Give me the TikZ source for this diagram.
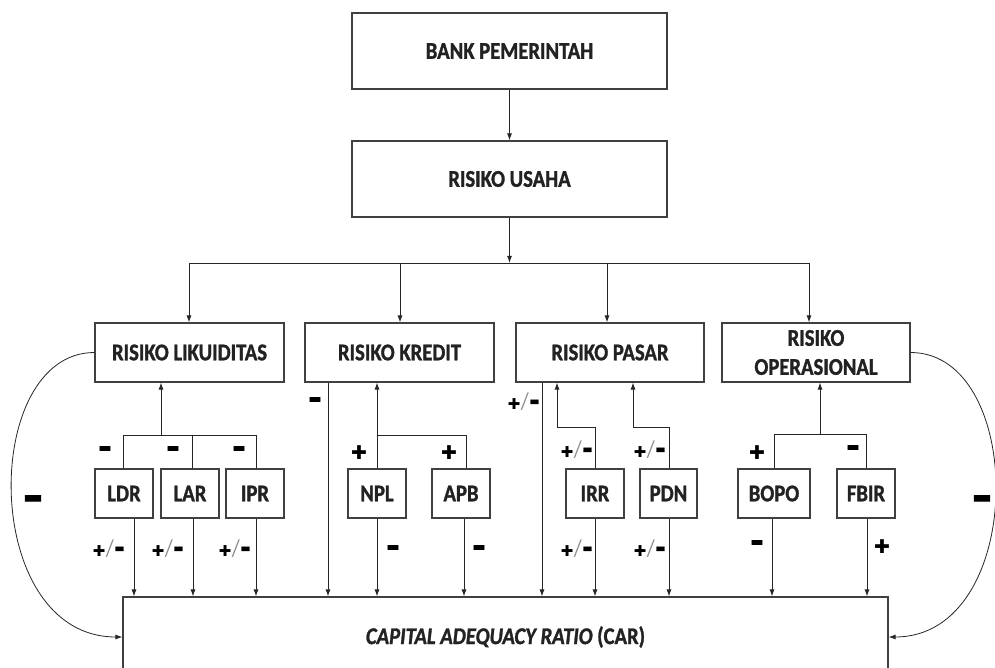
\documentclass[tikz,border=0pt]{standalone}
\usepackage{fontspec}
\usepackage{graphicx}
\usetikzlibrary{arrows.meta,calc}
\setmainfont{Carlito}[FakeStretch=0.86, BoldFeatures={FakeBold=1.2}, BoldItalicFeatures={FakeBold=1.2}]
\newfontfamily\djv{DejaVu Sans}
\newcommand\mnsign[2]{\scalebox{#1}[#2]{\fontsize{20}{20}\selectfont\bfseries –}}
\newcommand\plsign[1]{{\djv\fontsize{#1}{#1}\selectfont ✚}}
\newcommand\pmsign{\plsign{15}\kern0.5pt{\color{black!45}\fontsize{24}{24}\selectfont /}\kern0pt\raisebox{-5pt}{\mnsign{1.3}{2.3}}}
\definecolor{ink}{HTML}{222222}
\tikzset{
  box/.style={draw=black!75, line width=1.1pt, inner sep=0pt, align=center,
    font=\fontsize{24}{29}\selectfont\bfseries, text=ink},
  arr/.style={-{Latex[length=7pt,width=5pt]}, line width=0.9pt, draw=black!85},
  ln/.style={line width=0.9pt, draw=black!85},
  sg/.style={inner sep=0pt, text=black},
}
\begin{document}
\begin{tikzpicture}[x=1pt,y=-1pt]
\useasboundingbox (0,0) rectangle (995,668);
\clip (0,0) rectangle (995,668);
\fill[white] (0,0) rectangle (995,668);
% top boxes
\node[box, minimum width=315pt, minimum height=76pt] (bank) at (509.5,51) {BANK PEMERINTAH};
\node[box, minimum width=315pt, minimum height=76pt] (usaha) at (509.5,179) {RISIKO USAHA};
% risk boxes
\node[box, minimum width=189pt, minimum height=59pt] (lik) at (189.5,352.5) {RISIKO LIKUIDITAS};
\node[box, minimum width=189pt, minimum height=59pt] (kre) at (399.5,352.5) {RISIKO KREDIT};
\node[box, minimum width=188pt, minimum height=59pt] (pas) at (610,352.5) {RISIKO PASAR};
\node[box, minimum width=188pt, minimum height=59pt] (ops) at (816,352.5) {RISIKO\\OPERASIONAL};
% ratio boxes
\node[box, minimum width=58pt, minimum height=49pt] (ldr) at (124,493.5) {LDR};
\node[box, minimum width=58pt, minimum height=49pt] (lar) at (190,493.5) {LAR};
\node[box, minimum width=58pt, minimum height=49pt] (ipr) at (255,493.5) {IPR};
\node[box, minimum width=58pt, minimum height=49pt] (npl) at (377,493.5) {NPL};
\node[box, minimum width=58pt, minimum height=49pt] (apb) at (461,493.5) {APB};
\node[box, minimum width=58pt, minimum height=49pt] (irr) at (595,493.5) {IRR};
\node[box, minimum width=57pt, minimum height=49pt] (pdn) at (668.5,493.5) {PDN};
\node[box, minimum width=72pt, minimum height=49pt] (bopo) at (774,493.5) {BOPO};
\node[box, minimum width=58pt, minimum height=49pt] (fbir) at (866,493.5) {FBIR};
% CAR
\node[box, minimum width=765pt, minimum height=80pt] (car) at (505.5,637) {\textit{CAPITAL ADEQUACY RATIO} (CAR)};
% top connectors
\coordinate (br) at (509.5,263);
\draw[arr] (bank) -- (usaha);
\draw[arr] (usaha) -- (br);
\draw[ln] ([xshift=-0.5pt]br -| lik) -- ([xshift=-7pt]br -| ops);
\draw[arr] ([xshift=-0.5pt]br -| lik) -- ([xshift=-0.5pt]lik.north);
\draw[arr] ([xshift=0.5pt]br -| kre) -- ([xshift=0.5pt]kre.north);
\draw[arr] ([xshift=-3pt]br -| pas) -- ([xshift=-3pt]pas.north);
\draw[arr] ([xshift=-7pt]br -| ops) -- ([xshift=-7pt]ops.north);
% likuiditas group
\coordinate (jl) at (161,435);
\draw[arr] (jl) -- (jl |- lik.south);
\draw[ln] ([xshift=-1pt]ldr.north) -- ([xshift=-1pt]ldr.north |- jl) -- ([xshift=1pt]ipr.north |- jl) -- ([xshift=1pt]ipr.north);
\draw[ln] ([xshift=2pt]lar.north) -- ([xshift=2pt]lar.north |- jl);
\draw[arr] ([xshift=10pt]ldr.south) -- ([xshift=10pt]ldr.south |- car.north);
\draw[arr] ([xshift=3pt]lar.south) -- ([xshift=3pt]lar.south |- car.north);
\draw[arr] ([xshift=1pt]ipr.south) -- ([xshift=1pt]ipr.south |- car.north);
% kredit group
\coordinate (jk) at (377,435);
\draw[arr] ([xshift=-71.5pt]kre.south) -- ([xshift=-71.5pt]kre.south |- car.north);
\draw[arr] (jk) -- (jk |- kre.south);
\draw[ln] (npl.north) -- (npl.north |- jk) -- ([xshift=5pt]apb.north |- jk) -- ([xshift=5pt]apb.north);
\draw[arr] (npl.south) -- (npl.south |- car.north);
\draw[arr] ([xshift=3pt]apb.south) -- ([xshift=3pt]apb.south |- car.north);
% pasar group
\coordinate (ji) at (557,427);
\coordinate (jp) at (633,427);
\draw[arr] ([xshift=-68pt]pas.south) -- ([xshift=-68pt]pas.south |- car.north);
\draw[arr] (irr.north) -- (irr.north |- ji) -- (ji) -- (ji |- pas.south);
\draw[arr] ([xshift=0.5pt]pdn.north) -- ([xshift=0.5pt]pdn.north |- jp) -- (jp) -- (jp |- pas.south);
\draw[arr] (irr.south) -- (irr.south |- car.north);
\draw[arr] ([xshift=0.5pt]pdn.south) -- ([xshift=0.5pt]pdn.south |- car.north);
% operasional group
\coordinate (jo) at (820,434);
\draw[arr] (jo) -- (jo |- ops.south);
\draw[ln] (bopo.north) -- (bopo.north |- jo) -- (fbir.north |- jo) -- (fbir.north);
\draw[arr] ([xshift=-2pt]bopo.south) -- ([xshift=-2pt]bopo.south |- car.north);
\draw[arr] ([xshift=1pt]fbir.south) -- ([xshift=1pt]fbir.south |- car.north);
% curves
\draw[arr, line width=0.8pt] (lik.west) .. controls (-20,352.5) and (-20,637) .. (car.west);
\draw[arr, line width=0.8pt] (ops.east) .. controls (1027,352.5) and (1027,637) .. (car.east);
% sign labels
\node[sg] (s1) at (105,454) {\mnsign{1.7}{2.3}};
\node[sg] (s2) at (173,454) {\mnsign{1.7}{2.3}};
\node[sg] (s3) at (239,454) {\mnsign{1.7}{2.3}};
\node[sg] (s4) at (109,551) {\pmsign};
\node[sg] (s5) at (168,551) {\pmsign};
\node[sg] (s6) at (235,551) {\pmsign};
\node[sg] (s7) at (315,405) {\mnsign{1.7}{2.3}};
\node[sg] (s8) at (359,453) {\plsign{19}};
\node[sg] (s9) at (449,453) {\plsign{19}};
\node[sg] (s10) at (393,553) {\mnsign{1.7}{2.3}};
\node[sg] (s11) at (479,553) {\mnsign{1.7}{2.3}};
\node[sg] (s12) at (524,404) {\pmsign};
\node[sg] (s13) at (577,452) {\pmsign};
\node[sg] (s14) at (650,452) {\pmsign};
\node[sg] (s15) at (577,551) {\pmsign};
\node[sg] (s16) at (650,551) {\pmsign};
\node[sg] (s17) at (757,453) {\plsign{19}};
\node[sg] (s18) at (853,453) {\mnsign{1.7}{2.3}};
\node[sg] (s19) at (757,548) {\mnsign{1.7}{2.3}};
\node[sg] (s20) at (882,547) {\plsign{19}};
\node[sg] (s21) at (33,506) {\mnsign{2.6}{3.2}};
\node[sg] (s22) at (982,506) {\mnsign{2.6}{3.2}};
\end{tikzpicture}
\end{document}
